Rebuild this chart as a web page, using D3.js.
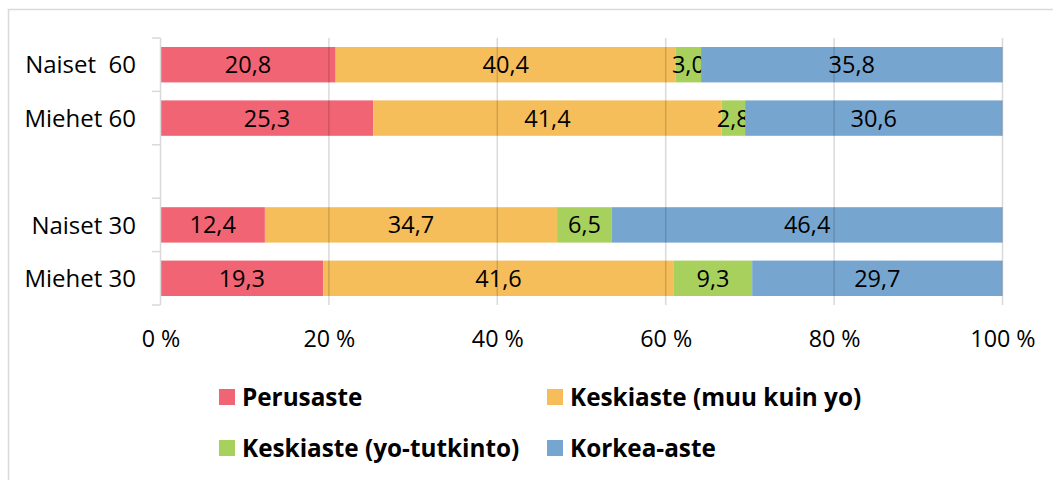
<!DOCTYPE html>
<html>
<head>
<meta charset="utf-8">
<script src="https://cdn.jsdelivr.net/npm/d3@7"></script>
<style>
  body { margin: 0; background: #fff; }
  svg { display: block; font-family: "Open Sans", "Noto Sans", sans-serif; }
</style>
</head>
<body>
<div id="chart"></div>
<script>
// chart data
var categories = ["Naiset  60", "Miehet 60", "", "Naiset 30", "Miehet 30"];
var seriesNames = ["Perusaste", "Keskiaste (muu kuin yo)", "Keskiaste (yo-tutkinto)", "Korkea-aste"];
var perusaste = [20.8, 25.3, null, 12.4, 19.3];
var keskiMuu = [40.4, 41.4, null, 34.7, 41.6];
var keskiYo = [3.0, 2.8, null, 6.5, 9.3];
var korkea = [35.8, 30.6, null, 46.4, 29.7];
var xTicks = [0, 0.2, 0.4, 0.6, 0.8, 1];

var colors = ["#f06474", "#f5be5b", "#a8d05c", "#76a6d0"];

var width = 1053,
    height = 480;

var svg = d3.select("#chart")
  .append("svg")
  .attr("width", width)
  .attr("height", height);

// outer frame
svg.append("rect")
  .attr("x", 8.5).attr("y", 9.5)
  .attr("width", 1070).attr("height", 490)
  .attr("fill", "none")
  .attr("stroke", "#d9d9d9")
  .attr("stroke-width", 1.5);

var x = d3.scaleLinear().domain([0, 1]).range([160.5, 1002.5]);
var y = d3.scaleBand().domain(categories).range([38, 305])
  .paddingInner(0.337).paddingOuter(0.337 / 2);

// build rows, stacked as share of row total
var allSeries = [perusaste, keskiMuu, keskiYo, korkea];
var rows = categories.map(function(c, i) {
  var row = { cat: c };
  allSeries.forEach(function(s, j) { row["s" + j] = s[i] || 0; });
  row.total = allSeries.reduce(function(a, s) { return a + (s[i] || 0); }, 0);
  return row;
});
var keys = ["s0", "s1", "s2", "s3"];
var stack = d3.stack().keys(keys)
  .value(function(d, k) { return d.total ? d[k] / d.total : 0; });
var stacked = stack(rows);

var fmt = function(v) { return d3.format(".1f")(v).replace(".", ","); };

var layers = svg.append("g").selectAll("g")
  .data(stacked)
  .enter().append("g")
  .attr("fill", function(d, i) { return colors[i]; });

layers.selectAll("rect")
  .data(function(d) { return d.filter(function(p) { return p.data.total > 0; }); })
  .enter().append("rect")
  .attr("x", function(d) { return x(d[0]); })
  .attr("width", function(d) { return x(d[1]) - x(d[0]); })
  .attr("y", function(d) { return y(d.data.cat); })
  .attr("height", y.bandwidth());

// gridlines over bars
svg.append("g").selectAll("line")
  .data(xTicks.slice(1))
  .enter().append("line")
  .attr("x1", function(d) { return x(d); })
  .attr("x2", function(d) { return x(d); })
  .attr("y1", 38).attr("y2", 305)
  .attr("stroke", "rgba(0,0,0,0.15)")
  .attr("stroke-width", 1.5);

// value labels
layers.each(function(layer, i) {
  d3.select(this).selectAll("text")
    .data(layer.filter(function(p) { return p.data.total > 0; }))
    .enter().append("text")
    .attr("x", function(d) { return (x(d[0]) + x(d[1])) / 2; })
    .attr("y", function(d) { return y(d.data.cat) + y.bandwidth() / 2; })
    .attr("dy", "0.36em")
    .attr("text-anchor", "middle")
    .attr("fill", "#000")
    .style("font-size", "23.5px")
    .text(function(d) { return fmt(d.data[layer.key]); });
});

// y axis line and boundary ticks
var yAxis = svg.append("g");
yAxis.append("line")
  .attr("x1", 160.5).attr("x2", 160.5)
  .attr("y1", 38).attr("y2", 305)
  .attr("stroke", "#d9d9d9").attr("stroke-width", 1.5);
var bounds = categories.map(function(c) { return y(c) - y.step() * y.paddingInner() / 2; });
bounds.push(305);
yAxis.selectAll(".bt")
  .data(bounds)
  .enter().append("line")
  .attr("class", "bt")
  .attr("x1", 152).attr("x2", 160.5)
  .attr("y1", function(d) { return d; })
  .attr("y2", function(d) { return d; })
  .attr("stroke", "#d9d9d9").attr("stroke-width", 1.5);

// category labels
var yLab = svg.append("g")
  .attr("transform", "translate(136,0)")
  .call(d3.axisLeft(y).tickSize(0).tickPadding(0));
yLab.select(".domain").remove();
yLab.selectAll("text")
  .attr("dy", "0.36em")
  .attr("fill", "#000")
  .style("font-family", "'Open Sans', sans-serif")
  .style("font-size", "24px")
  .style("white-space", "pre");

// x axis labels
var xAx = svg.append("g")
  .attr("transform", "translate(0,347)")
  .call(d3.axisBottom(x).tickValues(xTicks).tickSize(0).tickPadding(0)
    .tickFormat(function(d) { return Math.round(d * 100) + " %"; }));
xAx.select(".domain").remove();
xAx.selectAll("text")
  .attr("dy", 0)
  .attr("fill", "#000")
  .style("font-family", "'Open Sans', sans-serif")
  .style("font-size", "23.3px");

// legend
var legendPos = [[219, 389], [547, 389], [219, 440], [547, 440]];
var legend = svg.append("g").selectAll("g")
  .data(seriesNames)
  .enter().append("g")
  .attr("transform", function(d, i) { return "translate(" + legendPos[i][0] + "," + legendPos[i][1] + ")"; });
legend.append("rect")
  .attr("width", 16).attr("height", 16)
  .attr("fill", function(d, i) { return colors[i]; });
legend.append("text")
  .attr("x", 23).attr("y", 16.5)
  .attr("fill", "#000")
  .style("font-size", "24.3px")
  .style("font-weight", "bold")
  .text(function(d) { return d; });
</script>
</body>
</html>
